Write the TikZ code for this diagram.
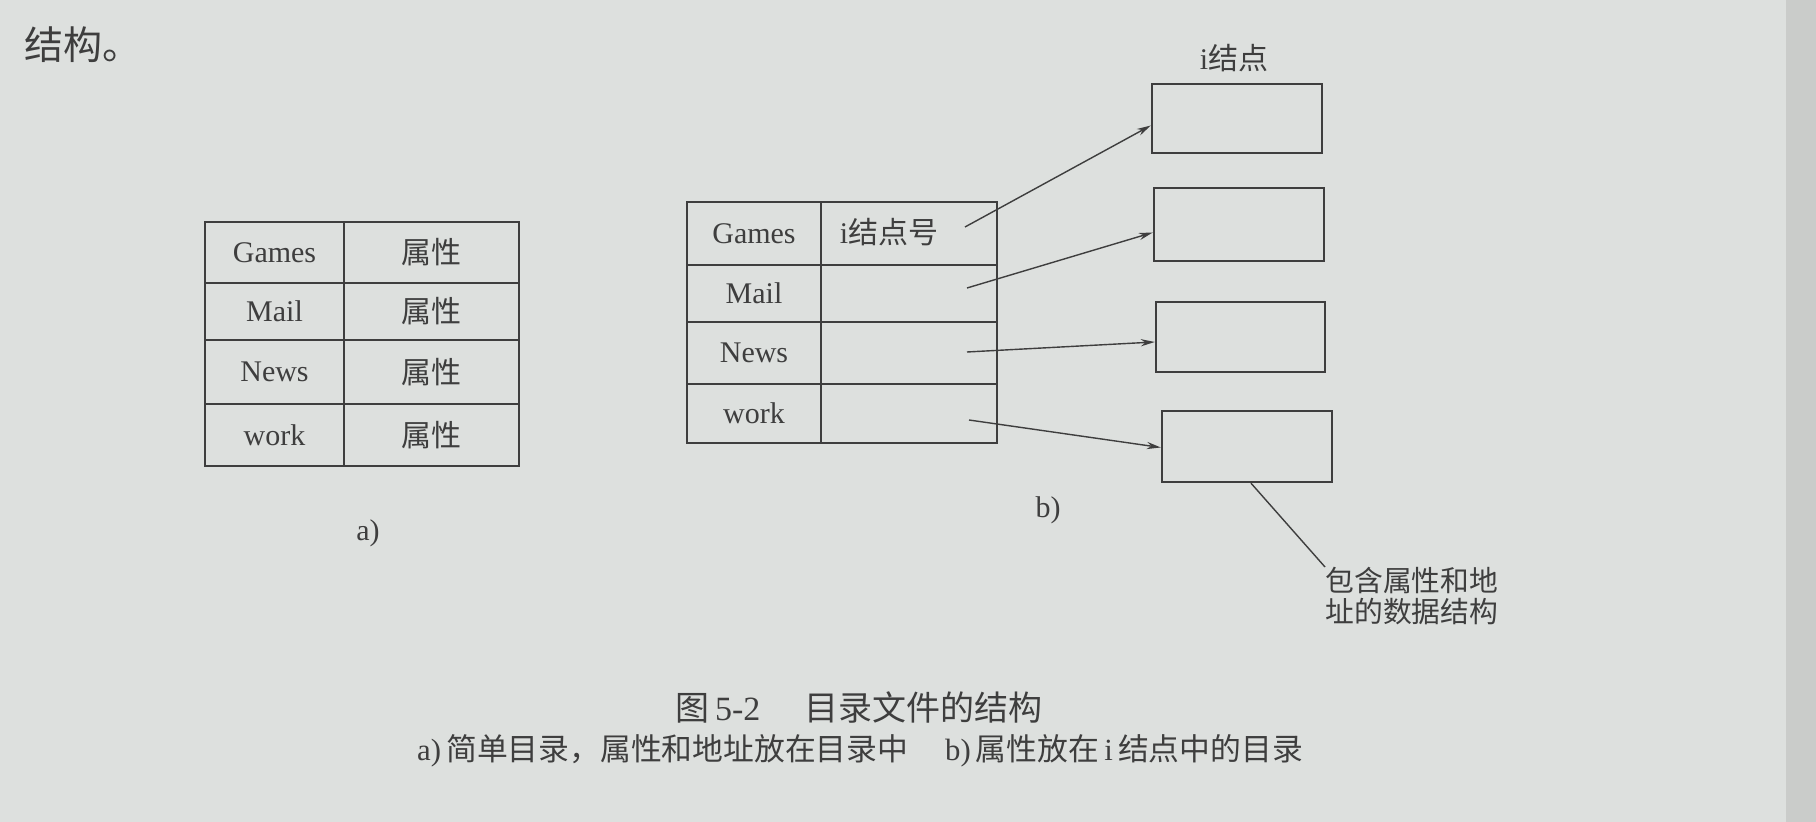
\documentclass[tikz,border=0pt]{standalone}
\usepackage{fontspec}
\setmainfont{Liberation Serif}
\newfontfamily\cjk{Noto Sans CJK SC}
\usetikzlibrary{arrows.meta,fit}
\definecolor{paper}{RGB}{221,224,222}
\definecolor{pageedge}{RGB}{202,204,202}
\definecolor{ink}{RGB}{62,62,62}
\begin{document}
\begin{tikzpicture}[x=0.5pt,y=-0.5pt,
  cell/.style={draw=ink, line width=1.2pt, inner sep=0pt, text=ink, font=\fontsize{15pt}{18pt}\selectfont},
  ibox/.style={draw=ink, line width=1.2pt, inner sep=0pt},
  ptr/.style={draw=ink, line width=0.7pt, -{Stealth[length=7pt,width=3.6pt]}},
  lead/.style={draw=ink, line width=0.7pt},
  txt/.style={text=ink, inner sep=0pt}]
\fill[paper] (0,0) rectangle (1816,822);
\fill[pageedge] (1786,0) rectangle (1816,822);
\useasboundingbox (0,0) rectangle (1816,822);

% heading remnant
\node[txt, anchor=west, font=\cjk\fontsize{19.5pt}{22pt}\selectfont] (head) at (24,45) {结构。};

% table a
\begin{scope}[every node/.append style={cell}]
\node[minimum width=69.5pt, minimum height=30.5pt] (aG)  at (274.5,252.5) {Games};
\node[minimum width=87.5pt, minimum height=30.5pt] (aGp) at (431.5,252.5) {\cjk 属性};
\node[minimum width=69.5pt, minimum height=28.5pt] (aM)  at (274.5,311.5) {Mail};
\node[minimum width=87.5pt, minimum height=28.5pt] (aMp) at (431.5,311.5) {\cjk 属性};
\node[minimum width=69.5pt, minimum height=32pt]   (aN)  at (274.5,372) {News};
\node[minimum width=87.5pt, minimum height=32pt]   (aNp) at (431.5,372) {\cjk 属性};
\node[minimum width=69.5pt, minimum height=31pt]   (aW)  at (274.5,435) {work};
\node[minimum width=87.5pt, minimum height=31pt]   (aWp) at (431.5,435) {\cjk 属性};
% table b
\node[minimum width=67pt, minimum height=31.5pt] (bG)  at (754,233.5) {Games};
\node[minimum width=88pt, minimum height=31.5pt] (bGp) at (909,233.5) {};
\node[minimum width=67pt, minimum height=28.5pt] (bM)  at (754,293.5) {Mail};
\node[minimum width=88pt, minimum height=28.5pt] (bMp) at (909,293.5) {};
\node[minimum width=67pt, minimum height=31pt]   (bN)  at (754,353) {News};
\node[minimum width=88pt, minimum height=31pt]   (bNp) at (909,353) {};
\node[minimum width=67pt, minimum height=29.5pt] (bW)  at (754,413.5) {work};
\node[minimum width=88pt, minimum height=29.5pt] (bWp) at (909,413.5) {};
\end{scope}
\node[txt, font=\fontsize{15pt}{18pt}\selectfont] (la) at (368,533) {a)};
\node[txt, font=\fontsize{15pt}{18pt}\selectfont] (inum) at (889,232) {i{\cjk 结点号}};
\node[txt, font=\fontsize{15pt}{18pt}\selectfont] (lb) at (1048,510) {b)};

% i-nodes
\node[txt, font=\fontsize{15pt}{18pt}\selectfont] (ititle) at (1234,58) {i{\cjk 结点}};
\node[ibox, fit={(1152,84) (1322,153)}] (box1) {};
\node[ibox, fit={(1154,188) (1324,261)}] (box2) {};
\node[ibox, fit={(1156,302) (1325,372)}] (box3) {};
\node[ibox, fit={(1162,411) (1332,482)}] (box4) {};

\coordinate (s1) at (965,227);
\coordinate (s2) at (967,288);
\coordinate (s3) at (967,352);
\coordinate (s4) at (969,420);
\draw[ptr] (s1) -- ([yshift=-3.5pt]box1.west);
\draw[ptr] (s2) -- ([yshift=-4pt]box2.west);
\draw[ptr] (s3) -- ([yshift=-2.5pt]box3.west);
\draw[ptr] (s4) -- ([yshift=-0.5pt]box4.west);

\node[txt, anchor=north west, align=left, font=\cjk\fontsize{14.4pt}{15.2pt}\selectfont] (ds) at (1325,567) {包含属性和地\\址的数据结构};
\draw[lead] ([xshift=2pt]box4.south) -- (ds.north west);

% captions
\node[txt, font=\fontsize{17pt}{20pt}\selectfont] (cap) at (859,707) {{\cjk 图}\,5-2\hspace{1.3em}{\cjk 目录文件的结构}};
\node[txt, font=\fontsize{15.4pt}{18pt}\selectfont] (sub) at (860,751) {a)\,{\cjk 简单目录，属性和地址放在目录中}\hspace{1.2em}b)\,{\cjk 属性放在}\,i\,{\cjk 结点中的目录}};
\end{tikzpicture}
\end{document}
